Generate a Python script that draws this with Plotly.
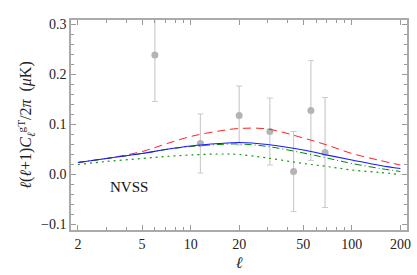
import plotly.graph_objects as go

# Data points (NVSS cross-correlation)
ell_data = [6.0, 11.5, 20.0, 31.0, 43.5, 55.7, 68.2]
cl_data = [0.238, 0.061, 0.117, 0.085, 0.005, 0.127, 0.043]
cl_err = [0.093, 0.059, 0.059, 0.067, 0.080, 0.100, 0.110]

# Theory curves
ell_th = [2, 3, 5, 7, 10, 15, 20, 30, 50, 70, 100, 150, 200]
blue = [0.023, 0.031, 0.041, 0.049, 0.056, 0.061, 0.063, 0.059, 0.048, 0.038, 0.028, 0.017, 0.011]
red = [0.023, 0.031, 0.045, 0.060, 0.075, 0.086, 0.091, 0.090, 0.072, 0.058, 0.041, 0.027, 0.018]
green_dd = [0.023, 0.031, 0.041, 0.049, 0.055, 0.059, 0.060, 0.055, 0.042, 0.032, 0.021, 0.011, 0.005]
green_dot = [0.019, 0.025, 0.031, 0.035, 0.038, 0.040, 0.039, 0.032, 0.021, 0.015, 0.008, 0.003, -0.001]

x_ticks = [2, 5, 10, 20, 50, 100, 200]
x_minor = [3, 4, 6, 7, 8, 9, 30, 40, 60, 70, 80, 90]
y_ticks = [-0.1, 0.0, 0.1, 0.2, 0.3]
y_tick_text = ["\u22120.1", "0.0", "0.1", "0.2", "0.3"]

SERIF = "'Liberation Serif', 'Times New Roman', Times, serif"

fig = go.Figure()

fig.add_trace(go.Scatter(
    x=ell_data, y=cl_data, mode="markers",
    marker=dict(color="#b4b4b4", size=7),
    error_y=dict(type="data", array=cl_err, color="#cccccc", thickness=1.2, width=3),
    showlegend=False))

fig.add_trace(go.Scatter(x=ell_th, y=red, mode="lines", line=dict(color="#ff2020", width=1, dash="8px,5px", shape="spline"), showlegend=False))
fig.add_trace(go.Scatter(x=ell_th, y=green_dd, mode="lines", line=dict(color="#008800", width=1, dash="7px,3px,1px,3px", shape="spline"), showlegend=False))
fig.add_trace(go.Scatter(x=ell_th, y=green_dot, mode="lines", line=dict(color="#119911", width=1.2, dash="2px,4px", shape="spline"), showlegend=False))
fig.add_trace(go.Scatter(x=ell_th, y=blue, mode="lines", line=dict(color="#1a1aff", width=1.1, shape="spline"), showlegend=False))

fig.add_annotation(x=0.11, y=0.155, xref="paper", yref="paper", text="NVSS", showarrow=False,
                   font=dict(family=SERIF, size=15, color="#111"))

fig.update_layout(
    width=417, height=275,
    margin=dict(l=71, r=6, t=20, b=45),
    paper_bgcolor="white", plot_bgcolor="white",
    font=dict(family=SERIF, size=14, color="#222"),
    xaxis=dict(type="log", range=[0.258, 2.342],
               tickmode="array", tickvals=x_ticks, ticktext=[str(v) for v in x_ticks],
               tickfont=dict(family=SERIF, size=14, color="#222"),
               ticks="inside", ticklen=5, tickcolor="#999", tickwidth=1,
               minor=dict(tickmode="array", tickvals=x_minor, ticks="inside", ticklen=3, tickcolor="#999"),
               showline=True, linecolor="#aaaaaa", linewidth=1.5, mirror="ticks",
               showgrid=False, zeroline=False,
               title=dict(text="<i>ℓ</i>", font=dict(family=SERIF, size=16), standoff=6)),
    yaxis=dict(range=[-0.112, 0.308],
               tickmode="array", tickvals=y_ticks, ticktext=y_tick_text,
               tickfont=dict(family=SERIF, size=14, color="#222"),
               ticks="inside", ticklen=5, tickcolor="#999", tickwidth=1,
               minor=dict(dtick=0.02, ticks="inside", ticklen=3, tickcolor="#999"),
               showline=True, linecolor="#aaaaaa", linewidth=1.5, mirror="ticks",
               showgrid=False, zeroline=False,
               title=dict(text="<i>ℓ</i>(<i>ℓ</i>+1)<i>C</i><sub><i>ℓ</i></sub><sup>gT</sup>/2<i>π</i>  (<i>μ</i>K)",
                          font=dict(family=SERIF, size=16), standoff=5)),
)

fig.write_html("out.html", config={"displayModeBar": False},
               post_script="document.body.style.margin='0';document.body.style.overflow='hidden';")
